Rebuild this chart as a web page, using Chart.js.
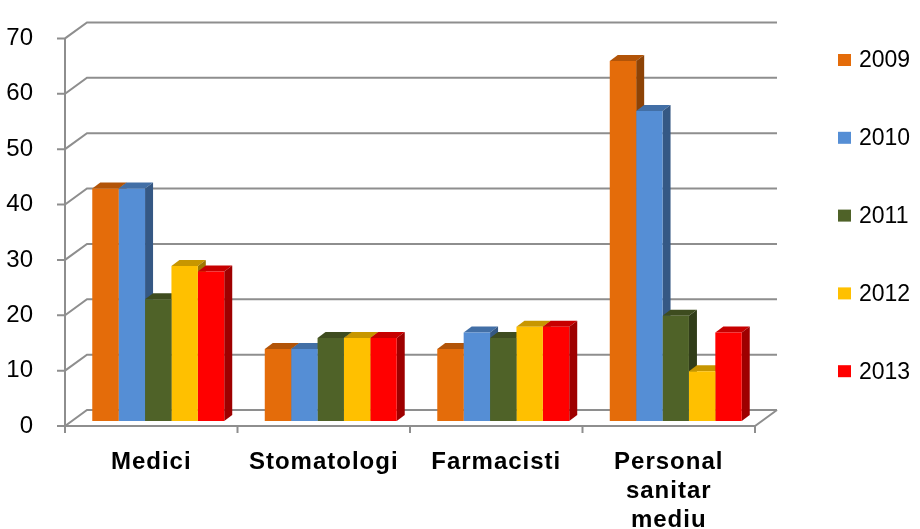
<!DOCTYPE html>
<html>
<head>
<meta charset="utf-8">
<script src="https://cdn.jsdelivr.net/npm/chart.js@4"></script>
<style>
  html, body { margin: 0; padding: 0; background: #fff; }
  #wrap { width: 920px; height: 529px; }
</style>
</head>
<body>
<div id="wrap"><canvas id="chart" width="920" height="529"></canvas></div>
<script>
// Data
const categories = ['Medici', 'Stomatologi', 'Farmacisti', ['Personal', 'sanitar', 'mediu']];
const years = ['2009', '2010', '2011', '2012', '2013'];
const v2009 = [42, 13, 13, 65];
const v2010 = [42, 13, 16, 56];
const v2011 = [22, 15, 15, 19];
const v2012 = [28, 15, 17, 9];
const v2013 = [27, 15, 17, 16];
const yMax = 70;
const yStep = 10;

const colors = ['#E46C0A', '#558ED5', '#4F6228', '#FFC000', '#FF0000'];
const FONT = '"Liberation Sans", Arial, sans-serif';
const gridColor = '#8e8e8e';

// 3D offsets (pixels)
const wall = { dx: 22, dy: -16 };   // back wall relative to front axis
const shift = { dx: 7, dy: -5 };    // bar row relative to front axis
const depth = { dx: 8, dy: -6 };    // bar thickness

function shade(hex, f) {
    const n = parseInt(hex.slice(1), 16);
    const r = Math.round(((n >> 16) & 255) * f);
    const g = Math.round(((n >> 8) & 255) * f);
    const b = Math.round((n & 255) * f);
    return `rgb(${r},${g},${b})`;
}

function poly(ctx, pts) {
    ctx.beginPath();
    ctx.moveTo(pts[0][0], pts[0][1]);
    for (let i = 1; i < pts.length; i++) ctx.lineTo(pts[i][0], pts[i][1]);
    ctx.closePath();
    ctx.fill();
}

function line(ctx, pts) {
    ctx.beginPath();
    ctx.moveTo(pts[0][0], pts[0][1]);
    for (let i = 1; i < pts.length; i++) ctx.lineTo(pts[i][0], pts[i][1]);
    ctx.stroke();
}

const bar3d = {
    id: 'bar3d',
    beforeDatasetsDraw(chart) {
        const ctx = chart.ctx;
        const xs = chart.scales.x, ys = chart.scales.y;
        const { left, right, bottom } = chart.chartArea;

        // walls, gridlines, floor
        ctx.save();
        ctx.strokeStyle = gridColor;
        ctx.lineWidth = 2;
        for (let v = 0; v <= yMax; v += yStep) {
            const y = ys.getPixelForValue(v);
            line(ctx, [[left - 8, y], [left, y], [left + wall.dx, y + wall.dy], [right + wall.dx, y + wall.dy]]);
        }
        line(ctx, [[left, ys.getPixelForValue(yMax)], [left, bottom + 7]]);
        line(ctx, [[left, bottom], [right, bottom], [right + wall.dx, bottom + wall.dy]]);
        const cw = xs.width / categories.length;
        for (let i = 0; i <= categories.length; i++) {
            const x = left + i * cw;
            line(ctx, [[x, bottom], [x, bottom + 7]]);
        }
        ctx.restore();

        // bar tops and sides, fronts follow from Chart.js
        ctx.save();
        ctx.translate(shift.dx, shift.dy);
        const metas = chart.getSortedVisibleDatasetMetas();
        for (let i = 0; i < categories.length; i++) {
            metas.forEach((meta, j) => {
                const p = meta.data[i].getProps(['x', 'y', 'base', 'width'], true);
                const l = p.x - p.width / 2, r = p.x + p.width / 2;
                ctx.fillStyle = shade(colors[j], 0.78);
                poly(ctx, [[l, p.y], [r, p.y], [r + depth.dx, p.y + depth.dy], [l + depth.dx, p.y + depth.dy]]);
                ctx.fillStyle = shade(colors[j], 0.62);
                poly(ctx, [[r, p.y], [r + depth.dx, p.y + depth.dy], [r + depth.dx, p.base + depth.dy], [r, p.base]]);
            });
        }
    },
    afterDatasetsDraw(chart) {
        chart.ctx.restore();
    },
    afterDraw(chart) {
        // legend
        const ctx = chart.ctx;
        ctx.save();
        ctx.font = `23px ${FONT}`;
        ctx.textBaseline = 'middle';
        ctx.textAlign = 'left';
        years.forEach((yr, j) => {
            const cy = 60 + j * 77.8;
            ctx.fillStyle = colors[j];
            ctx.fillRect(838, cy - 6, 13, 12);
            ctx.fillStyle = '#000';
            ctx.fillText(yr, 859, cy + 1);
        });
        ctx.restore();
    }
};

const series = [v2009, v2010, v2011, v2012, v2013];

new Chart(document.getElementById('chart'), {
    type: 'bar',
    data: {
        labels: categories,
        datasets: series.map((d, j) => ({
            label: years[j],
            data: d,
            backgroundColor: colors[j],
            borderWidth: 0,
            clip: false
        }))
    },
    options: {
        responsive: false,
        animation: false,
        devicePixelRatio: 1,
        layout: { padding: { top: 33, right: 165, left: 0, bottom: 0 } },
        datasets: { bar: { barPercentage: 1, categoryPercentage: 0.765 } },
        plugins: { legend: { display: false }, tooltip: { enabled: false } },
        scales: {
            x: {
                grid: { display: false },
                border: { display: false },
                ticks: {
                    color: '#000',
                    padding: 14,
                    maxRotation: 0,
                    autoSkip: false,
                    font: { family: FONT, size: 24, weight: 'bold', lineHeight: 1.2 }
                },
                afterFit(s) {
                    s.height = 103;
                    if (!s._spaced) {
                        const orig = s.draw;
                        s.draw = function (area) {
                            this.ctx.save();
                            this.ctx.letterSpacing = '1px';
                            orig.call(this, area);
                            this.ctx.restore();
                        };
                        s._spaced = true;
                    }
                }
            },
            y: {
                min: 0,
                max: yMax,
                grid: { display: false },
                border: { display: false },
                ticks: {
                    stepSize: yStep,
                    color: '#000',
                    padding: 24,
                    font: { family: FONT, size: 24 }
                },
                afterFit(s) { s.width = 65; }
            }
        }
    },
    plugins: [bar3d]
});
</script>
</body>
</html>
